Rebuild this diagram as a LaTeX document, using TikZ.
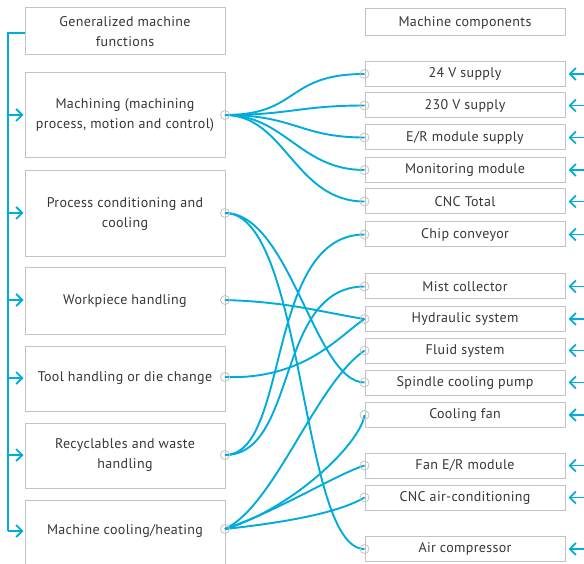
\documentclass[tikz,border=0pt]{standalone}
\usepackage{fontspec}
\setmainfont[LetterSpace=2.5]{PT Sans}
\usetikzlibrary{arrows.meta}
\definecolor{cyanline}{RGB}{0,172,220}
\definecolor{boxgrey}{RGB}{195,195,195}
\definecolor{textgrey}{RGB}{55,55,55}
\tikzset{
  lbox/.style={draw=boxgrey, line width=1pt, minimum width=200pt, align=center, text=textgrey, font=\fontsize{14}{20}\selectfont, inner sep=0pt},
  rbox/.style={draw=boxgrey, line width=1pt, minimum width=200pt, minimum height=25pt, align=center, text=textgrey, font=\fontsize{14}{16}\selectfont, inner sep=0pt},
  conn/.style={draw=cyanline, line width=1.9pt},
  feed/.style={draw=cyanline, line width=1.9pt, -{Straight Barb[length=6pt,width=12pt]}},
  port/.style={draw=boxgrey, line width=0.8pt, circle, minimum size=9pt, inner sep=0pt}
}
\begin{document}
\begin{tikzpicture}[x=1pt,y=-1pt]
\useasboundingbox[fill=white] (0,0) rectangle (584,564);
% left boxes
\node[lbox, minimum height=47pt] (gen) at (125,31.5) {Generalized machine\\functions};
\node[lbox, minimum height=85pt] (mach) at (125,115.5) {Machining (machining\\process, motion and control)};
\node[lbox, minimum height=86pt] (proc) at (125,214) {Process conditioning and\\cooling};
\node[lbox, minimum height=66pt] (work) at (125,301) {Workpiece handling};
\node[lbox, minimum height=65pt] (tool) at (125,378.5) {Tool handling or die change};
\node[lbox, minimum height=65pt] (recy) at (125,455.5) {Recyclables and waste\\handling};
\node[lbox, minimum height=74pt] (cool) at (125,537) {};
\node[text=textgrey, font=\fontsize{14}{16}\selectfont] (coolt) at (125,531) {Machine cooling/heating};
% right boxes
\node[rbox, minimum height=27pt] (comp) at (465,22.5) {Machine components};
\node[rbox] (v24) at (465,74) {24 V supply};
\node[rbox] (v230) at (465,105.5) {230 V supply};
\node[rbox] (er) at (465,137.5) {E/R module supply};
\node[rbox] (mon) at (465,170) {Monitoring module};
\node[rbox] (cnc) at (465,201.5) {CNC Total};
\node[rbox] (chip) at (465,234.5) {Chip conveyor};
\node[rbox] (mist) at (465,286.5) {Mist collector};
\node[rbox] (hyd) at (465,319) {Hydraulic system};
\node[rbox] (fluid) at (465,350.5) {Fluid system};
\node[rbox] (spin) at (465,382.5) {Spindle cooling pump};
\node[rbox] (fan) at (465,415) {Cooling fan};
\node[rbox] (fer) at (465,465.5) {Fan E/R module};
\node[rbox] (air) at (465,497.5) {CNC air-conditioning};
\node[rbox] (comprs) at (465,549) {Air compressor};
% port coordinates
\coordinate (pm) at (225,115);
\coordinate (pp) at (225,213);
\coordinate (pw) at (225,300);
\coordinate (pt) at (225,377);
\coordinate (pr) at (225,455);
\coordinate (pc) at (225,529);
% left feed line
\coordinate (lt) at (8,33);
\coordinate (lb) at (8,531);
\draw[conn] (gen.west |- lt) -- (lt) -- (lb);
\foreach \n/\y in {mach/115, proc/213, work/300, tool/378, recy/455, cool/531}{
  \draw[feed] (8,\y) -- ([xshift=-1pt]\n.west |- 0,\y);
}
% right feed arrows
\foreach \n in {v24,v230,er,mon,cnc,chip,mist,hyd,fluid,spin,fan,fer,air,comprs}{
  \draw[feed] ([xshift=24pt]\n.east) -- ([xshift=3pt]\n.east);
}
% connectors
\draw[conn] (pm) .. controls (300,115) and (285,74) .. (v24.west);
\draw[conn] (pm) .. controls (290,115) and (300,105.5) .. (v230.west);
\draw[conn] (pm) .. controls (295,115) and (300,137.5) .. (er.west);
\draw[conn] (pm) .. controls (285,115) and (300,170) .. (mon.west);
\draw[conn] (pm) .. controls (285,115) and (295,201.5) .. (cnc.west);
\draw[conn] (pp) .. controls (290,213) and (315,382.5) .. (spin.west);
\draw[conn] (pp) .. controls (305,213) and (300,549) .. (comprs.west);
\draw[conn] (pw) .. controls (290,302) and (320,312) .. (hyd.west);
\draw[conn] (pt) .. controls (305,380) and (340,335) .. (hyd.west);
\draw[conn] (pr) .. controls (290,455) and (265,234.5) .. (chip.west);
\draw[conn] (pr) .. controls (298,455) and (275,286.5) .. (mist.west);
\draw[conn] (pc) .. controls (275,505) and (315,385) .. (fluid.west);
\draw[conn] (pc) .. controls (290,510) and (360,445) .. (fan.west);
\draw[conn] (pc) .. controls (280,510) and (335,475) .. (fer.west);
\draw[conn] (pc) .. controls (290,522) and (340,512) .. (air.west);
% ports
\foreach \c in {pm,pp,pw,pt,pr,pc}{ \node[port] at (\c) {}; }
\foreach \n in {v24,v230,er,mon,cnc,chip,mist,hyd,fluid,spin,fan,fer,air,comprs}{
  \node[port] at (\n.west) {};
}
\end{tikzpicture}
\end{document}
